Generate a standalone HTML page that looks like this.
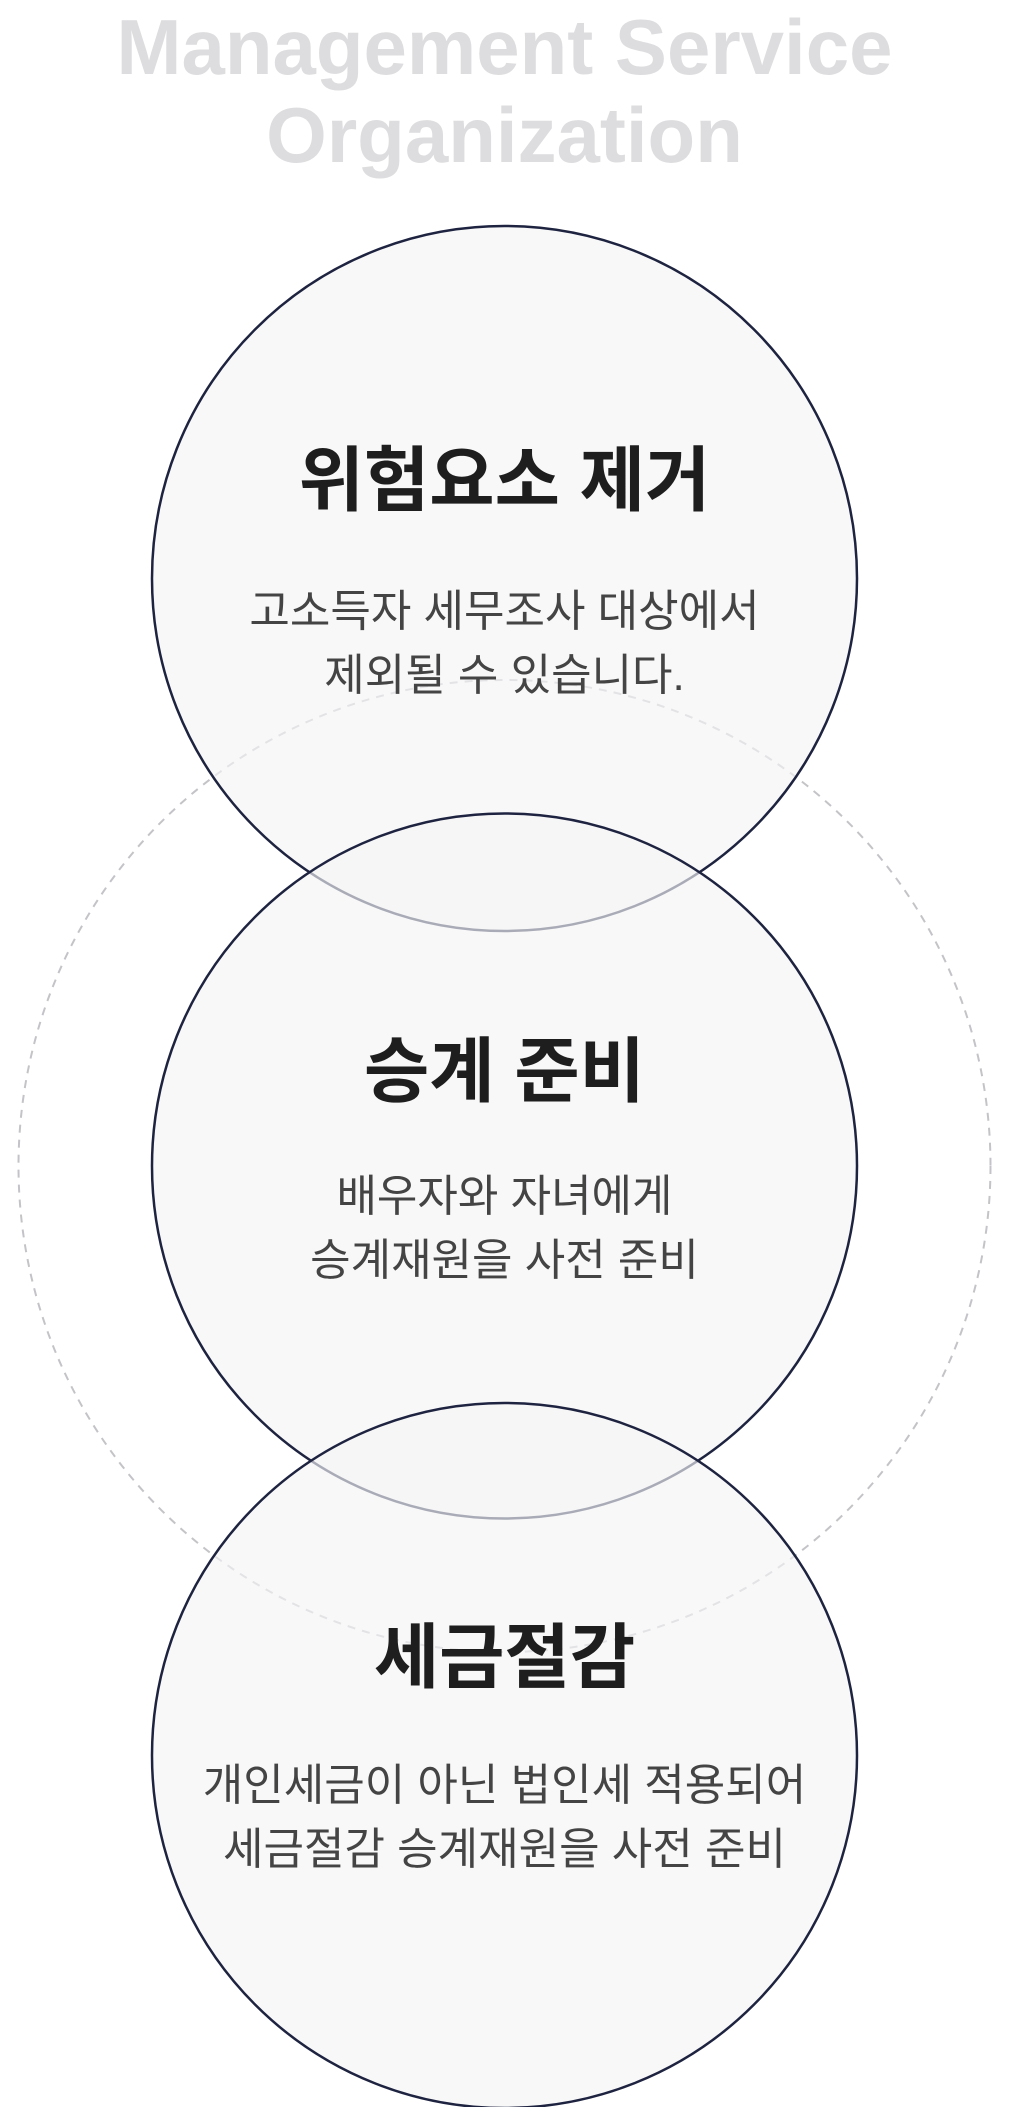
<!DOCTYPE html>
<html><head><meta charset="utf-8"><style>
html,body{margin:0;padding:0;background:#fff;}
body{width:1009px;height:2107px;position:relative;overflow:hidden;font-family:"Liberation Sans","Noto Sans CJK KR",sans-serif;}
.t{position:absolute;left:0;width:1009px;text-align:center;white-space:nowrap;}
.title{font-weight:bold;font-size:78px;color:#dddddf;line-height:88px;top:3px;}
.h{font-weight:bold;font-size:71px;color:#1e1e1e;line-height:80px;}
.b{font-size:44px;color:#444;line-height:64px;}
</style></head><body>
<div class="t title">Management Service<br>Organization</div>
<svg width="1009" height="2107" style="position:absolute;left:0;top:0">
<circle cx="504.5" cy="1166" r="486" fill="none" stroke="#c4c4c8" stroke-width="2" stroke-dasharray="8 7"/>
<circle cx="504.5" cy="578.5" r="352.5" fill="rgba(244,244,246,0.65)" stroke="#1e2340" stroke-width="2.5"/>
<circle cx="504.5" cy="1166" r="352.5" fill="rgba(244,244,246,0.65)" stroke="#1e2340" stroke-width="2.5"/>
<circle cx="504.5" cy="1755.5" r="352.5" fill="rgba(244,244,246,0.65)" stroke="#1e2340" stroke-width="2.5"/>
</svg>
<div class="t h" style="top:442px">위험요소 제거</div>
<div class="t b" style="top:580px">고소득자 세무조사 대상에서<br>제외될 수 있습니다.</div>
<div class="t h" style="top:1033px">승계 준비</div>
<div class="t b" style="top:1165px">배우자와 자녀에게<br>승계재원을 사전 준비</div>
<div class="t h" style="top:1619px">세금절감</div>
<div class="t b" style="top:1754px">개인세금이 아닌 법인세 적용되어<br>세금절감 승계재원을 사전 준비</div>
</body></html>
